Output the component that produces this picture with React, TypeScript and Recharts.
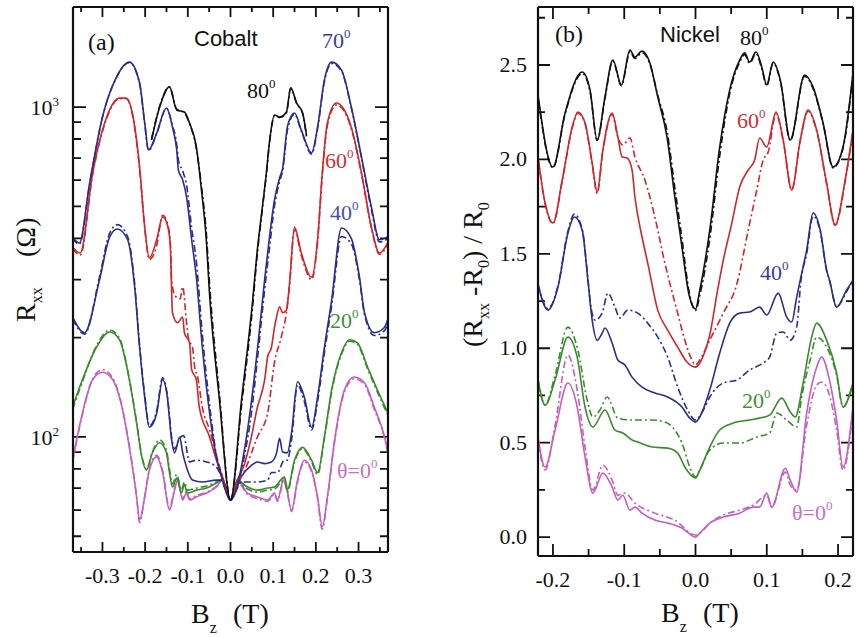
import React from 'react'
import { LineChart, Line, XAxis, YAxis, ReferenceLine } from 'recharts'

const SERIF = '"Liberation Serif", "DejaVu Serif", serif'
const SANS = '"Liberation Sans", Arial, sans-serif'

const BLACK = '#111111'
const RED = '#d0262c'
const NAVY = '#2a2d8c'
const GREEN = '#3b8a2e'
const MAGENTA = '#c45fbe'
const DASHDOT = '7 3 2 3'

type P = [number, number][]

// ---- panel (a) Cobalt: B (T) vs R_xx (ohm, log) ----
const xTicksA = [-0.35, -0.3, -0.25, -0.2, -0.15, -0.1, -0.05, 0, 0.05, 0.1, 0.15, 0.2, 0.25, 0.3, 0.35]
const xMajorA = [-0.3, -0.2, -0.1, 0, 0.1, 0.2, 0.3]
const yTicksA = [50, 60, 70, 80, 90, 100, 200, 300, 400, 500, 600, 700, 800, 900, 1000]
const yMajorA = [100, 1000]

const co80: P = [[-0.185,794],[-0.166,1000],[-0.143,1151],[-0.126,980],[-0.108,966],[-0.096,895],[-0.08,757],[-0.068,560],[-0.057,400],[-0.049,270],[-0.026,130],[0,64.4],[0.026,130],[0.052,260],[0.062,360],[0.073,478],[0.084,631],[0.091,778],[0.103,946],[0.115,933],[0.131,966],[0.141,1143],[0.155,1028],[0.169,959],[0.178,822]]
const co80d: P = [[-0.185,800],[-0.166,1005],[-0.143,1150],[-0.126,985],[-0.108,960],[-0.096,890],[-0.08,750],[-0.068,575],[-0.057,420],[-0.049,290],[-0.026,135],[0,64.4],[0.026,125],[0.052,250],[0.062,350],[0.073,470],[0.084,625],[0.091,770],[0.103,940],[0.115,930],[0.131,960],[0.141,1140],[0.155,1025],[0.169,955],[0.178,815]]
const co70: P = [[-0.37,404],[-0.354,387],[-0.33,588],[-0.3,933],[-0.267,1233],[-0.237,1368],[-0.213,1183],[-0.201,895],[-0.192,741],[-0.173,834],[-0.15,993],[-0.136,869],[-0.126,741],[-0.122,644],[-0.112,601],[-0.103,534],[-0.091,396],[-0.08,305],[-0.066,187],[-0.049,118],[-0.033,87],[-0.019,74],[0,64.4],[0.019,74],[0.033,92],[0.049,128],[0.066,200],[0.08,300],[0.091,400],[0.103,523],[0.115,610],[0.122,650],[0.134,880],[0.15,959],[0.166,851],[0.19,726],[0.204,869],[0.22,1208],[0.237,1368],[0.26,1294],[0.283,1000],[0.307,705],[0.33,498],[0.349,396],[0.368,404]]
const co70d: P = [[-0.37,400],[-0.354,384],[-0.33,585],[-0.3,930],[-0.267,1230],[-0.237,1365],[-0.213,1180],[-0.201,890],[-0.192,738],[-0.173,830],[-0.15,990],[-0.136,880],[-0.126,770],[-0.122,690],[-0.112,640],[-0.103,580],[-0.091,430],[-0.08,340],[-0.066,205],[-0.049,125],[-0.033,88],[-0.019,74],[0,64.4],[0.019,73],[0.033,88],[0.049,118],[0.066,187],[0.08,280],[0.091,370],[0.103,500],[0.115,595],[0.122,640],[0.134,860],[0.15,950],[0.166,845],[0.19,720],[0.204,860],[0.22,1195],[0.237,1355],[0.26,1285],[0.283,995],[0.307,700],[0.33,490],[0.349,390],[0.368,398]]
const co60: P = [[-0.37,376],[-0.352,361],[-0.323,631],[-0.29,933],[-0.26,1064],[-0.244,1064],[-0.23,959],[-0.213,658],[-0.201,433],[-0.19,349],[-0.173,396],[-0.159,464],[-0.148,440],[-0.141,380],[-0.138,279],[-0.136,238],[-0.124,222],[-0.112,231],[-0.108,207],[-0.096,193],[-0.091,160],[-0.08,149],[-0.073,123],[-0.049,100],[-0.033,85],[-0.019,76],[0,64.4],[0.016,74],[0.033,83],[0.049,100],[0.063,123],[0.075,139],[0.08,149],[0.087,175],[0.096,187],[0.103,215],[0.108,231],[0.115,248],[0.122,238],[0.131,242],[0.138,289],[0.15,433],[0.166,361],[0.19,305],[0.204,396],[0.215,631],[0.227,895],[0.248,1028],[0.262,1000],[0.283,869],[0.307,631],[0.33,433],[0.349,361],[0.368,387]]
const co60d: P = [[-0.37,372],[-0.352,356],[-0.323,625],[-0.29,925],[-0.26,1060],[-0.244,1060],[-0.23,950],[-0.213,650],[-0.201,430],[-0.19,345],[-0.173,380],[-0.159,470],[-0.148,445],[-0.141,390],[-0.138,300],[-0.13,268],[-0.118,262],[-0.112,285],[-0.103,222],[-0.098,197],[-0.089,187],[-0.084,163],[-0.077,152],[-0.066,123],[-0.049,105],[-0.03,85],[-0.019,76],[0,64.4],[0.016,72],[0.033,79],[0.063,100],[0.087,118],[0.103,168],[0.119,201],[0.131,238],[0.138,285],[0.15,425],[0.166,355],[0.19,300],[0.204,390],[0.215,620],[0.227,880],[0.248,1015],[0.262,990],[0.283,860],[0.307,625],[0.33,430],[0.349,358],[0.368,382]]
const co40: P = [[-0.37,231],[-0.342,207],[-0.307,299],[-0.283,404],[-0.265,427],[-0.241,396],[-0.225,289],[-0.213,187],[-0.201,132],[-0.19,107],[-0.173,118],[-0.159,149],[-0.148,132],[-0.138,98],[-0.131,89.5],[-0.119,100],[-0.112,89.5],[-0.103,81],[-0.089,74],[-0.066,73],[-0.033,74],[-0.019,74],[0,64.4],[0.026,76],[0.049,82],[0.063,84],[0.08,83],[0.096,84],[0.108,89.5],[0.115,99],[0.122,90],[0.133,89.5],[0.143,103],[0.157,147],[0.173,132],[0.19,107],[0.204,132],[0.22,187],[0.237,260],[0.26,430],[0.283,400],[0.302,306],[0.314,238],[0.337,207],[0.361,215],[0.368,226]]
const co40d: P = [[-0.37,228],[-0.342,205],[-0.307,305],[-0.283,415],[-0.265,440],[-0.241,405],[-0.225,295],[-0.213,190],[-0.201,134],[-0.19,108],[-0.173,120],[-0.159,151],[-0.148,134],[-0.138,100],[-0.131,92],[-0.119,99],[-0.11,101],[-0.096,84],[-0.08,85],[-0.056,84],[-0.033,81],[-0.021,76],[0,64.4],[0.026,73],[0.063,73],[0.087,74],[0.096,78],[0.11,78],[0.126,85],[0.133,85],[0.143,98],[0.157,144],[0.173,128],[0.19,105],[0.204,128],[0.22,180],[0.237,250],[0.26,405],[0.283,385],[0.302,300],[0.314,235],[0.337,203],[0.361,210],[0.368,220]]
const co20: P = [[-0.37,123],[-0.347,149],[-0.314,187],[-0.283,208],[-0.26,197],[-0.237,149],[-0.22,110],[-0.208,87],[-0.197,79.4],[-0.183,89.5],[-0.166,96],[-0.15,89.5],[-0.143,78],[-0.136,70.5],[-0.126,75],[-0.115,67.6],[-0.108,71.6],[-0.101,67.6],[-0.08,69],[-0.056,70],[-0.033,72.5],[-0.019,74],[0,64.4],[0.016,74],[0.04,70.5],[0.063,69],[0.087,70],[0.103,70.5],[0.126,75.6],[0.133,69],[0.15,85],[0.169,93],[0.19,85],[0.204,78],[0.22,100],[0.237,139],[0.26,180],[0.279,197],[0.297,193],[0.321,163],[0.344,139],[0.368,119]]
const co20d: P = [[-0.37,121],[-0.347,147],[-0.314,189],[-0.283,211],[-0.26,199],[-0.237,150],[-0.22,111],[-0.208,88],[-0.197,80],[-0.183,90],[-0.166,98],[-0.15,91],[-0.143,80],[-0.136,72],[-0.126,77],[-0.115,69],[-0.108,73],[-0.101,69],[-0.08,70],[-0.056,71],[-0.033,73],[-0.019,74],[0,64.4],[0.016,73],[0.04,69.5],[0.063,68],[0.087,69],[0.103,69.5],[0.126,74],[0.133,68],[0.15,84],[0.169,92],[0.19,84],[0.204,77],[0.22,99],[0.237,137],[0.26,178],[0.279,195],[0.297,191],[0.321,161],[0.344,137],[0.368,117]]
const co0: P = [[-0.37,85],[-0.347,118],[-0.323,149],[-0.3,157],[-0.276,149],[-0.253,121],[-0.237,93],[-0.22,65.8],[-0.213,56],[-0.201,65.8],[-0.19,79.4],[-0.173,87],[-0.159,78],[-0.143,60],[-0.131,69],[-0.124,74],[-0.112,64.4],[-0.103,67.6],[-0.096,64.4],[-0.08,65.8],[-0.056,67.6],[-0.033,70.5],[-0.019,74],[0,64.4],[0.016,74],[0.04,67.6],[0.063,65.8],[0.087,64.4],[0.103,67.6],[0.11,64.4],[0.126,75.6],[0.143,60],[0.157,74],[0.173,85],[0.19,79.4],[0.204,65.8],[0.215,53.4],[0.227,65.8],[0.244,98],[0.267,139],[0.29,152],[0.314,146],[0.337,123],[0.361,100],[0.368,91]]
const co0d: P = [[-0.37,84],[-0.347,117],[-0.323,150],[-0.3,160],[-0.276,151],[-0.253,122],[-0.237,94],[-0.22,66],[-0.213,55],[-0.201,66],[-0.19,80],[-0.173,88],[-0.159,79],[-0.143,61],[-0.131,70],[-0.124,75],[-0.112,65],[-0.103,68.5],[-0.096,65],[-0.08,66.5],[-0.056,68],[-0.033,71],[-0.019,74],[0,64.4],[0.016,73],[0.04,67],[0.063,65],[0.087,63.8],[0.103,67],[0.11,63.8],[0.126,74.5],[0.143,59.5],[0.157,73],[0.173,84],[0.19,78.5],[0.204,65],[0.215,52.5],[0.227,65],[0.244,97],[0.267,137],[0.29,150],[0.314,144],[0.337,121],[0.361,99],[0.368,90]]

// ---- panel (b) Nickel: B (T) vs (Rxx-R0)/R0 ----
const xTicksB = [-0.2, -0.15, -0.1, -0.05, 0, 0.05, 0.1, 0.15, 0.2]
const xMajorB = [-0.2, -0.1, 0, 0.1, 0.2]
const yTicksB = [0, 0.25, 0.5, 0.75, 1, 1.25, 1.5, 1.75, 2, 2.25, 2.5, 2.75]
const yMajorB = [0, 0.5, 1, 1.5, 2, 2.5]

const ni80: P = [[-0.221,2.34],[-0.2,1.96],[-0.183,2.246],[-0.159,2.463],[-0.148,2.368],[-0.138,2.103],[-0.127,2.331],[-0.116,2.526],[-0.104,2.394],[-0.092,2.579],[-0.085,2.542],[-0.075,2.574],[-0.064,2.511],[-0.053,2.331],[-0.04,2.119],[-0.029,1.801],[-0.019,1.536],[-0.009,1.282],[0,1.208],[0.006,1.308],[0.02,1.626],[0.034,2.066],[0.048,2.368],[0.062,2.526],[0.069,2.564],[0.076,2.516],[0.085,2.569],[0.093,2.489],[0.1,2.394],[0.109,2.516],[0.119,2.421],[0.133,2.103],[0.153,2.447],[0.165,2.383],[0.179,2.193],[0.193,1.96],[0.207,2.066],[0.221,2.458]]
const ni80d: P = [[-0.221,2.33],[-0.2,1.955],[-0.183,2.24],[-0.159,2.455],[-0.148,2.36],[-0.138,2.1],[-0.127,2.325],[-0.116,2.52],[-0.104,2.39],[-0.092,2.57],[-0.085,2.535],[-0.075,2.565],[-0.064,2.505],[-0.053,2.34],[-0.04,2.15],[-0.029,1.85],[-0.019,1.58],[-0.009,1.3],[0,1.2],[0.006,1.28],[0.02,1.58],[0.034,2.02],[0.048,2.35],[0.062,2.515],[0.069,2.555],[0.076,2.51],[0.085,2.56],[0.093,2.48],[0.1,2.39],[0.109,2.51],[0.119,2.415],[0.133,2.1],[0.153,2.44],[0.165,2.375],[0.179,2.19],[0.193,1.955],[0.207,2.06],[0.221,2.45]]
const ni60: P = [[-0.221,2.013],[-0.211,1.769],[-0.2,1.663],[-0.187,1.891],[-0.173,2.172],[-0.165,2.251],[-0.155,2.193],[-0.145,1.981],[-0.138,1.827],[-0.13,2.05],[-0.117,2.246],[-0.109,2.119],[-0.103,2.013],[-0.096,2.007],[-0.089,1.944],[-0.085,1.801],[-0.075,1.589],[-0.067,1.451],[-0.053,1.202],[-0.039,1.096],[-0.025,1.006],[-0.012,0.927],[0,0.9],[0.006,0.922],[0.013,0.98],[0.02,1.07],[0.031,1.308],[0.039,1.467],[0.051,1.663],[0.062,1.854],[0.074,1.944],[0.083,1.997],[0.09,2.113],[0.1,2.066],[0.113,2.251],[0.123,2.103],[0.135,1.838],[0.147,2.103],[0.158,2.262],[0.17,2.156],[0.184,1.875],[0.196,1.653],[0.21,1.891],[0.221,2.156]]
const ni60d: P = [[-0.221,2.01],[-0.211,1.765],[-0.2,1.66],[-0.187,1.885],[-0.173,2.165],[-0.165,2.245],[-0.155,2.19],[-0.145,1.975],[-0.138,1.82],[-0.13,2.045],[-0.117,2.24],[-0.109,2.119],[-0.102,2.076],[-0.092,2.113],[-0.085,2.013],[-0.071,1.891],[-0.057,1.695],[-0.043,1.451],[-0.033,1.3],[-0.025,1.186],[-0.015,1.043],[-0.005,0.938],[0,0.911],[0.006,0.938],[0.02,1.043],[0.039,1.186],[0.058,1.34],[0.074,1.626],[0.086,1.838],[0.095,1.997],[0.102,2.039],[0.113,2.24],[0.123,2.1],[0.135,1.84],[0.147,2.1],[0.158,2.255],[0.17,2.15],[0.184,1.87],[0.196,1.65],[0.21,1.885],[0.221,2.15]]
const ni40: P = [[-0.221,1.335],[-0.207,1.202],[-0.193,1.324],[-0.179,1.61],[-0.17,1.695],[-0.159,1.626],[-0.151,1.361],[-0.145,1.149],[-0.138,1.043],[-0.131,1.08],[-0.127,1.107],[-0.117,1.028],[-0.109,0.938],[-0.099,0.911],[-0.089,0.847],[-0.075,0.794],[-0.057,0.763],[-0.039,0.742],[-0.019,0.689],[-0.008,0.63],[0,0.609],[0.006,0.636],[0.02,0.779],[0.034,0.975],[0.048,1.133],[0.062,1.186],[0.076,1.192],[0.09,1.218],[0.1,1.176],[0.116,1.292],[0.128,1.165],[0.135,1.139],[0.142,1.271],[0.147,1.361],[0.156,1.52],[0.165,1.716],[0.175,1.626],[0.184,1.414],[0.188,1.361],[0.198,1.218],[0.212,1.308],[0.221,1.361]]
const ni40d: P = [[-0.221,1.34],[-0.207,1.21],[-0.193,1.33],[-0.179,1.62],[-0.17,1.71],[-0.159,1.63],[-0.151,1.37],[-0.148,1.255],[-0.141,1.149],[-0.131,1.186],[-0.123,1.292],[-0.113,1.218],[-0.106,1.16],[-0.095,1.202],[-0.081,1.186],[-0.067,1.133],[-0.053,1.059],[-0.039,0.953],[-0.025,0.794],[-0.011,0.673],[0,0.62],[0.011,0.673],[0.02,0.742],[0.039,0.816],[0.058,0.832],[0.076,0.885],[0.095,0.922],[0.104,0.953],[0.114,1.08],[0.123,1.086],[0.133,1.043],[0.142,1.112],[0.148,1.36],[0.156,1.5],[0.165,1.7],[0.175,1.62],[0.184,1.41],[0.188,1.36],[0.198,1.22],[0.212,1.3],[0.221,1.36]]
const ni20: P = [[-0.221,0.832],[-0.211,0.699],[-0.197,0.832],[-0.179,1.059],[-0.166,0.953],[-0.155,0.689],[-0.144,0.583],[-0.127,0.673],[-0.113,0.567],[-0.102,0.551],[-0.089,0.514],[-0.081,0.503],[-0.061,0.477],[-0.039,0.471],[-0.025,0.445],[-0.015,0.371],[0,0.313],[0.006,0.355],[0.02,0.477],[0.034,0.567],[0.053,0.604],[0.076,0.62],[0.09,0.63],[0.104,0.646],[0.121,0.736],[0.133,0.662],[0.14,0.636],[0.151,0.816],[0.163,1.059],[0.17,1.133],[0.184,1.043],[0.198,0.869],[0.207,0.689],[0.221,0.816]]
const ni20d: P = [[-0.221,0.832],[-0.211,0.699],[-0.197,0.858],[-0.179,1.112],[-0.165,0.99],[-0.152,0.726],[-0.144,0.636],[-0.134,0.673],[-0.124,0.742],[-0.109,0.63],[-0.089,0.62],[-0.061,0.62],[-0.043,0.609],[-0.029,0.567],[-0.019,0.498],[-0.008,0.371],[0,0.318],[0.006,0.355],[0.02,0.461],[0.039,0.498],[0.062,0.498],[0.086,0.53],[0.104,0.551],[0.114,0.657],[0.128,0.62],[0.142,0.583],[0.149,0.742],[0.161,0.94],[0.17,1.059],[0.184,1.006],[0.198,0.858],[0.207,0.689],[0.221,0.816]]
const ni0: P = [[-0.221,0.53],[-0.211,0.371],[-0.197,0.567],[-0.179,0.816],[-0.166,0.689],[-0.155,0.424],[-0.144,0.233],[-0.13,0.339],[-0.117,0.265],[-0.109,0.196],[-0.102,0.222],[-0.092,0.143],[-0.085,0.159],[-0.075,0.127],[-0.057,0.09],[-0.039,0.074],[-0.019,0.048],[0,0],[0.006,0.021],[0.02,0.074],[0.039,0.106],[0.062,0.127],[0.081,0.159],[0.09,0.159],[0.1,0.233],[0.107,0.159],[0.126,0.365],[0.133,0.302],[0.142,0.238],[0.156,0.657],[0.17,0.9],[0.177,0.953],[0.188,0.832],[0.198,0.62],[0.207,0.371],[0.221,0.689]]
const ni0d: P = [[-0.221,0.514],[-0.211,0.355],[-0.197,0.593],[-0.179,0.964],[-0.166,0.779],[-0.155,0.477],[-0.144,0.249],[-0.13,0.381],[-0.117,0.302],[-0.109,0.222],[-0.099,0.233],[-0.085,0.18],[-0.057,0.127],[-0.029,0.09],[0,0.011],[0.006,0.021],[0.02,0.074],[0.039,0.117],[0.062,0.143],[0.081,0.169],[0.1,0.222],[0.107,0.159],[0.126,0.344],[0.133,0.275],[0.142,0.249],[0.156,0.593],[0.17,0.805],[0.177,0.821],[0.188,0.752],[0.198,0.567],[0.207,0.355],[0.221,0.673]]

const seriesA = [
  { d: co0d, c: MAGENTA, dash: true }, { d: co0, c: MAGENTA },
  { d: co20d, c: GREEN, dash: true }, { d: co20, c: GREEN },
  { d: co40d, c: NAVY, dash: true }, { d: co40, c: NAVY },
  { d: co60d, c: RED, dash: true }, { d: co60, c: RED },
  { d: co70d, c: NAVY, dash: true }, { d: co70, c: NAVY },
  { d: co80d, c: BLACK, dash: true }, { d: co80, c: BLACK },
]
const seriesB = [
  { d: ni0d, c: MAGENTA, dash: true }, { d: ni0, c: MAGENTA },
  { d: ni20d, c: GREEN, dash: true }, { d: ni20, c: GREEN },
  { d: ni40d, c: NAVY, dash: true }, { d: ni40, c: NAVY },
  { d: ni60d, c: RED, dash: true }, { d: ni60, c: RED },
  { d: ni80d, c: BLACK, dash: true }, { d: ni80, c: BLACK },
]

const rows = (a: P) => a.map(([x, y]) => ({ x, y }))
const isIn = (v: number, list: number[]) => list.some((m) => Math.abs(m - v) < 1e-9)

function TickLabel(props: any) {
  const { payload, side, fmt } = props
  const x = Number(props.x)
  const y = Number(props.y)
  const v = payload.value
  if (side === 'bottom')
    return <text x={x} y={y + 31} textAnchor="middle" fontSize={22} fontFamily={SERIF} fill="#111">{v.toFixed(1)}</text>
  if (fmt === 'pow')
    return (
      <text x={x - 14} y={y + 8} textAnchor="end" fontSize={22} fontFamily={SERIF} fill="#111">
        10<tspan dy={-9} fontSize={13}>{Math.round(Math.log10(v))}</tspan>
      </text>
    )
  return <text x={x - 11} y={y + 7} textAnchor="end" fontSize={22} fontFamily={SERIF} fill="#111">{v.toFixed(1)}</text>
}

// ReferenceLine shape that keeps only short inward stubs at both ends of the line
const stubShape = (len: number, vertical: boolean) => (p: any) => {
  const x1 = Number(p.x1), y1 = Number(p.y1), x2 = Number(p.x2), y2 = Number(p.y2)
  let d: string
  if (vertical) {
    const top = Math.min(y1, y2), bot = Math.max(y1, y2)
    d = `M${x1},${bot}L${x1},${bot - len}M${x1},${top}L${x1},${top + len}`
  } else {
    const l = Math.min(x1, x2), r = Math.max(x1, x2)
    d = `M${l},${y1}L${l + len},${y1}M${r},${y1}L${r - len},${y1}`
  }
  return <path d={d} stroke="#111" strokeWidth={1.8} fill="none" />
}

const frame = { stroke: '#111', strokeWidth: 2.2 }

function Deg({ x, y, t, c, size = 22 }: { x: number; y: number; t: string; c: string; size?: number }) {
  return (
    <text x={x} y={y} fill={c} fontSize={size} fontFamily={SERIF}>
      {t}<tspan dy={-10} fontSize={13}>0</tspan>
    </text>
  )
}

function frameParts(xDom: number[], xAll: number[], xMaj: number[], yDom: number[], yAll: number[], yMaj: number[],
  log: boolean, xLen: number[], yLen: number[], yWidth: number, hidden: P) {
  const ys = log ? { scale: 'log' as const } : {}
  return [
    <XAxis key="xb" dataKey="x" type="number" domain={xDom} allowDataOverflow ticks={xMaj} interval={0}
      height={45} axisLine={frame} tickLine={false} tickSize={0} tickMargin={0}
      tick={<TickLabel side="bottom" />} />,
    <XAxis key="xt" xAxisId="t" orientation="top" mirror dataKey="x" type="number" domain={xDom} allowDataOverflow ticks={xMaj} interval={0}
      height={1} axisLine={frame} tickLine={false} tick={false} />,
    <YAxis key="yl" type="number" {...ys} domain={yDom} allowDataOverflow ticks={yMaj} interval={0}
      width={yWidth} axisLine={frame} tickLine={false} tickSize={0} tickMargin={0}
      tick={<TickLabel side="left" fmt={log ? 'pow' : 'dec'} />} />,
    <YAxis key="yr" yAxisId="r" orientation="right" mirror type="number" {...ys} domain={yDom} allowDataOverflow ticks={yMaj} interval={0}
      width={1} axisLine={frame} tickLine={false} tick={false} />,
    <Line key="h" xAxisId="t" yAxisId="r" data={rows(hidden)} dataKey="y" stroke="none" dot={false} activeDot={false} isAnimationActive={false} />,
    ...xAll.map((v) => (
      <ReferenceLine key={`tx${v}`} x={v} stroke="#111" shape={stubShape(isIn(v, xMaj) ? xLen[0] : xLen[1], true)} />
    )),
    ...yAll.map((v) => (
      <ReferenceLine key={`ty${v}`} y={v} stroke="#111" shape={stubShape(isIn(v, yMaj) ? yLen[0] : yLen[1], false)} />
    )),
  ]
}

export default function App() {
  return (
    <div style={{ position: 'absolute', left: 0, top: 0, width: 856, height: 637, background: '#fff' }}>
      <div style={{ position: 'absolute', left: 0, top: 0 }}>
        <LineChart width={400} height={637} margin={{ top: 7, right: 12, bottom: 40, left: 8 }}>
          {frameParts([-0.369, 0.369], xTicksA, xMajorA, [44.8, 2010], yTicksA, yMajorA, true, [10, 5], [13, 8], 65, co0)}
          {seriesA.map((s, i) => (
            <Line key={i} data={rows(s.d)} dataKey="y" type="monotone" stroke={s.c} strokeWidth={1.6}
              strokeDasharray={s.dash ? DASHDOT : undefined} dot={false} activeDot={false} isAnimationActive={false} />
          ))}
        </LineChart>
      </div>

      <div style={{ position: 'absolute', left: 440, top: 0 }}>
        <LineChart width={416} height={637} margin={{ top: 7, right: 3, bottom: 36, left: 8 }}>
          {frameParts([-0.221, 0.221], xTicksB, xMajorB, [-0.1, 2.807], yTicksB, yMajorB, false, [12, 7], [12, 7], 90, ni0)}
          {seriesB.map((s, i) => (
            <Line key={i} data={rows(s.d)} dataKey="y" type="monotone" stroke={s.c} strokeWidth={1.6}
              strokeDasharray={s.dash ? DASHDOT : undefined} dot={false} activeDot={false} isAnimationActive={false} />
          ))}
        </LineChart>
      </div>

      <svg width={856} height={637} style={{ position: 'absolute', left: 0, top: 0, pointerEvents: 'none' }}>
        {/* panel (a) labels */}
        <text x={88} y={50} fontSize={24} fontFamily={SERIF} fill="#111">(a)</text>
        <text x={194} y={46} fontSize={22} fontFamily={SANS} fill="#111">Cobalt</text>
        <Deg x={322} y={48} t="70" c="#3a3c9c" />
        <Deg x={247} y={98} t="80" c="#111" />
        <Deg x={325} y={168} t="60" c="#cf3035" />
        <Deg x={330} y={220} t="40" c="#4a4eae" />
        <Deg x={330} y={328} t="20" c="#3f8f34" />
        <Deg x={337} y={478} t="θ=0" c="#c772c2" />
        <text x={191} y={623} fontSize={28} fontFamily={SERIF} fill="#111">
          B<tspan dy={10} fontSize={16}>z</tspan><tspan x={233} dy={-10}>(T)</tspan>
        </text>
        <text transform="translate(35,322) rotate(-90)" fontSize={28} fontFamily={SERIF} fill="#111">
          R<tspan dy={7} fontSize={16}>xx</tspan><tspan x={65} dy={-7}>(Ω)</tspan>
        </text>

        {/* panel (b) labels */}
        <text x={555} y={42} fontSize={24} fontFamily={SERIF} fill="#111">(b)</text>
        <text x={660} y={42} fontSize={22} fontFamily={SANS} fill="#111">Nickel</text>
        <Deg x={740} y={45} t="80" c="#111" />
        <Deg x={737} y={128} t="60" c="#cf3035" />
        <Deg x={760} y={280} t="40" c="#3a3c9c" />
        <Deg x={742} y={408} t="20" c="#3f8f34" />
        <Deg x={792} y={520} t="θ=0" c="#c772c2" />
        <text x={661} y={622} fontSize={28} fontFamily={SERIF} fill="#111">
          B<tspan dy={10} fontSize={16}>z</tspan><tspan x={703} dy={-10}>(T)</tspan>
        </text>
        <text transform="translate(482,347) rotate(-90)" fontSize={28} fontFamily={SERIF} fill="#111">
          (R<tspan dy={7} fontSize={16}>xx</tspan><tspan dy={-7}> -R</tspan><tspan dy={7} fontSize={16}>0</tspan><tspan dy={-7}>) / R</tspan><tspan dy={7} fontSize={16}>0</tspan>
        </text>
      </svg>
    </div>
  )
}
